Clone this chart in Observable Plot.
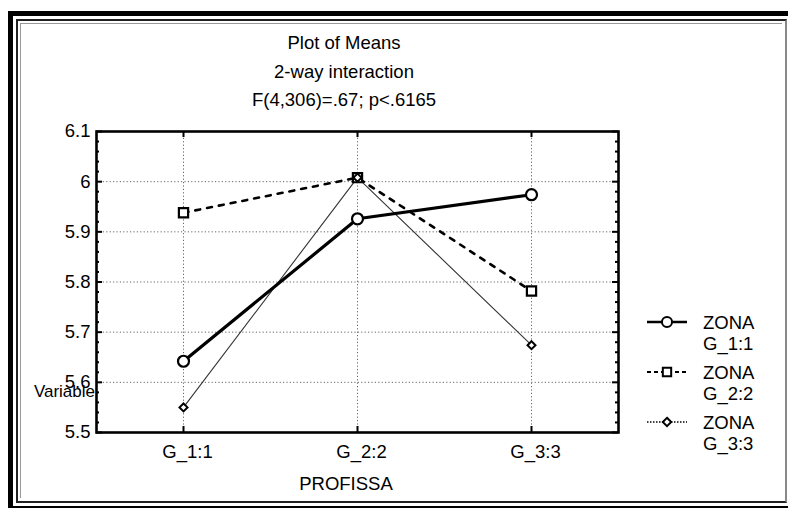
<!DOCTYPE html>
<html><head><meta charset="utf-8">
<script src="https://cdn.jsdelivr.net/npm/d3@7"></script>
<script src="https://cdn.jsdelivr.net/npm/@observablehq/plot@0.6"></script>
<style>
body{margin:0;background:#fff;}
#wrap{position:relative;width:788px;height:509px;overflow:hidden;font-family:"Liberation Sans",Arial,sans-serif;background:#fff;}
#wrap svg{position:absolute;left:0;top:0;}
.b1{position:absolute;left:8px;top:11px;width:800px;height:490px;border-left:5px solid #000;border-top:5px solid #000;border-bottom:2px solid #000;}
.b2{position:absolute;left:16px;top:19px;width:767px;height:480px;border:2px solid #222;border-right-color:#888;}
.b3{position:absolute;left:20px;top:23px;width:761px;height:474px;border-left:1px solid #999;border-top:1px solid #999;}
</style></head><body><div id="wrap"><div class="b1"></div><div class="b2"></div><div class="b3"></div></div>
<script>
const categories = ["G_1:1", "G_2:2", "G_3:3"];
const seriesNames = ["ZONA G_1:1", "ZONA G_2:2", "ZONA G_3:3"];
const zona1 = [5.642, 5.926, 5.974];
const zona2 = [5.938, 6.008, 5.782];
const zona3 = [5.550, 6.008, 5.674];
const yTicks = [5.5, 5.6, 5.7, 5.8, 5.9, 6.0, 6.1];
const titleLines = ["Plot of Means", "2-way interaction", "F(4,306)=.67; p<.6165"];
const xLabel = "PROFISSA";
const yLabel = "Variable";
const legendLabels = [["ZONA", "G_1:1"], ["ZONA", "G_2:2"], ["ZONA", "G_3:3"]];

const W = 788, H = 509, mL = 96, mR = 170, mT = 131, mB = 77;
const fw = W - mL - mR, fh = H - mT - mB;
const FONT = "Liberation Sans, Arial, sans-serif";

const mk = (vals, name) => categories.map((c, i) => ({cat: c, zona: name, v: vals[i]}));
const r1 = mk(zona1, seriesNames[0]);
const r2 = mk(zona2, seriesNames[1]);
const r3 = mk(zona3, seriesNames[2]);
const minor = d3.range(0, 31).map(i => 5.5 + i * 0.02).filter(v => Math.abs(Math.round(v * 10) - v * 10) > 1e-6);

const grid = {stroke: "#666", strokeOpacity: 1, strokeWidth: 1, strokeDasharray: "1.2,2.2"};
const tk = {stroke: "#000", strokeWidth: 2};

const chart = Plot.plot({
  width: W, height: H,
  marginLeft: mL, marginRight: mR, marginTop: mT, marginBottom: mB,
  x: {type: "point", domain: categories, padding: 0.5},
  y: {domain: [5.5, 6.1]},
  style: {fontFamily: FONT, fontSize: "18px", color: "#000", background: "transparent", overflow: "visible"},
  marks: [
    Plot.ruleY(yTicks.slice(1, -1), {y: d => d, ...grid}),
    Plot.ruleX(categories, {x: d => d, ...grid}),
    Plot.tickY(yTicks, {y: d => d, insetRight: fw - 6, ...tk}),
    Plot.tickY(minor, {y: d => d, insetRight: fw - 3, ...tk}),
    Plot.tickY(yTicks, {y: d => d, insetLeft: fw - 6, ...tk}),
    Plot.tickY(minor, {y: d => d, insetLeft: fw - 3, ...tk}),
    Plot.tickX(categories, {x: d => d, insetBottom: fh - 6, ...tk}),
    Plot.tickX(categories, {x: d => d, insetTop: fh - 6, ...tk}),
    Plot.axisY(yTicks, {tickSize: 0, tickPadding: 6, fontSize: 18.5, label: null, tickFormat: d => String(+d.toFixed(1))}),
    Plot.axisX({tickSize: 0, tickPadding: 12, dx: 4, fontSize: 18.5, label: null}),
    Plot.line(r3, {x: "cat", y: "v", stroke: "#333", strokeWidth: 1.1}),
    Plot.line(r2, {x: "cat", y: "v", stroke: "#000", strokeWidth: 2.6, strokeDasharray: "5,7"}),
    Plot.line(r1, {x: "cat", y: "v", stroke: "#000", strokeWidth: 3.2}),
    Plot.dot(r2, {x: "cat", y: "v", symbol: "square", r: 5.2, fill: "#fff", stroke: "#000", strokeWidth: 2.2}),
    Plot.dot(r3, {x: "cat", y: "v", symbol: "diamond2", r: 3.6, fill: "#fff", stroke: "#000", strokeWidth: 2}),
    Plot.dot(r1, {x: "cat", y: "v", symbol: "circle", r: 5.5, fill: "#fff", stroke: "#000", strokeWidth: 2.2}),
    Plot.frame({stroke: "#000", strokeWidth: 2.6})
  ]
});
document.getElementById("wrap").appendChild(chart);

// overlay texts and legend
const svg = d3.select(chart);
const g = svg.append("g").attr("font-family", FONT).attr("font-size", 18.5).attr("fill", "#000").attr("text-anchor", "start");
g.selectAll("text.t").data(titleLines).join("text")
  .attr("x", 344).attr("y", (d, i) => 49 + i * 28.5).attr("text-anchor", "middle").text(d => d);
g.append("text").attr("x", 346).attr("y", 490).attr("text-anchor", "middle").text(xLabel);
g.append("text").attr("x", 95).attr("y", 397).attr("text-anchor", "end").attr("font-size", 17).text(yLabel);

const legStyles = [
  {dash: null, w: 2.6, sym: d3.symbolCircle, size: 80},
  {dash: "4,3", w: 2.2, sym: d3.symbolSquare, size: 70},
  {dash: "1.5,1.5", w: 1.5, sym: d3.symbolDiamond2, size: 45}
];
const legY = [322, 372, 422];
const lg = g.selectAll("g.leg").data(legendLabels).join("g").attr("transform", (d, i) => `translate(0,${legY[i]})`);
lg.append("line").attr("x1", 647).attr("x2", 687).attr("stroke", "#000")
  .attr("stroke-width", (d, i) => legStyles[i].w).attr("stroke-dasharray", (d, i) => legStyles[i].dash);
lg.append("path").attr("transform", "translate(667,0)")
  .attr("d", (d, i) => d3.symbol(legStyles[i].sym, legStyles[i].size)())
  .attr("fill", "#fff").attr("stroke", "#000").attr("stroke-width", 2);
lg.append("text").attr("x", 703).attr("y", 7).attr("text-anchor", "start").text(d => d[0]);
lg.append("text").attr("x", 703).attr("y", 28).attr("text-anchor", "start").text(d => d[1]);
</script></body></html>
